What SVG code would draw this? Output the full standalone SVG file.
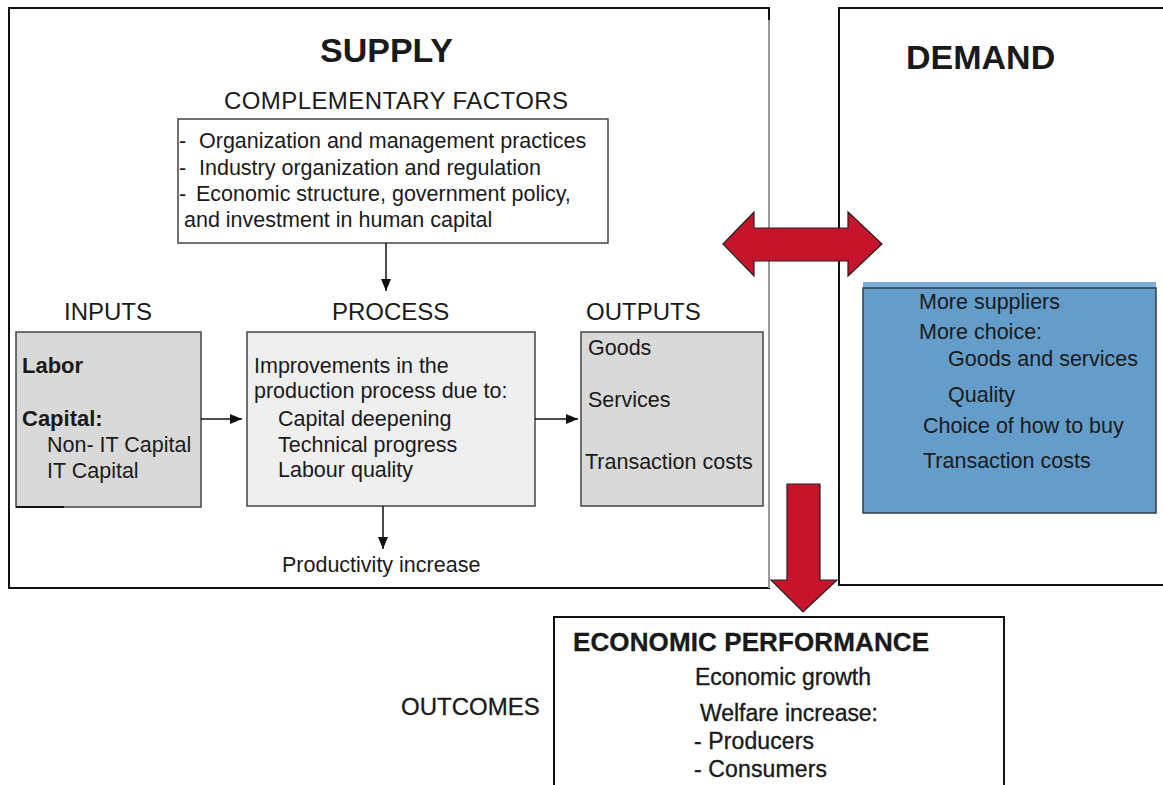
<svg xmlns="http://www.w3.org/2000/svg" width="1163" height="785" viewBox="0 0 1163 785">
<defs>
<style>
text{font-family:"Liberation Sans",Arial,sans-serif;fill:#1a1a1a}
.t21{font-size:21.5px}
.b22{font-size:22px;font-weight:bold}
.h24{font-size:24px}
.ep{font-size:23px;stroke:#1a1a1a;stroke-width:0.35}
.frame{fill:#fff;stroke:#111;stroke-width:2}
.grey{fill:#d9d9d9;stroke:#444;stroke-width:1.5}
.light{fill:#efefef;stroke:#444;stroke-width:1.5}
.conn{stroke:#111;stroke-width:1.5;fill:none}
.red{fill:#c8142a;stroke:#222;stroke-width:1.2}
</style>
<marker id="ah" viewBox="0 0 12 10" refX="12" refY="5" markerWidth="12" markerHeight="10" markerUnits="userSpaceOnUse" orient="auto">
<path d="M0,0 L12,5 L0,10 Z" fill="#111"/>
</marker>
</defs>

<g id="supply">
<rect class="frame" x="9" y="8" width="760" height="580"/>
<line x1="769" y1="20" x2="769" y2="588" stroke="#999" stroke-width="2"/>
<text x="320" y="62" style="font-size:34px;font-weight:bold">SUPPLY</text>
<text class="h24" x="224" y="109" textLength="344">COMPLEMENTARY FACTORS</text>
<text class="h24" x="64" y="320">INPUTS</text>
<text class="h24" x="332" y="320">PROCESS</text>
<text class="h24" x="586" y="320">OUTPUTS</text>
</g>

<g id="demand">
<rect class="frame" x="839" y="8" width="340" height="577"/>
<text x="906" y="69" style="font-size:34px;font-weight:bold">DEMAND</text>
</g>

<g id="complementary">
<rect x="178" y="119" width="430" height="124" fill="#fff" stroke="#444" stroke-width="1.5"/>
<text class="t21" x="179" y="148">-</text>
<text class="t21" x="199" y="148">Organization and management practices</text>
<text class="t21" x="179" y="175">-</text>
<text class="t21" x="199" y="175">Industry organization and regulation</text>
<text class="t21" x="179" y="201">-</text>
<text class="t21" x="196" y="201">Economic structure,  government policy,</text>
<text class="t21" x="184" y="227">and investment in human capital</text>
</g>

<g id="inputs">
<rect class="grey" x="16" y="332" width="185" height="175"/>
<line x1="16" y1="507" x2="64" y2="507" stroke="#111" stroke-width="2"/>
<text class="b22" x="22" y="373">Labor</text>
<text class="b22" x="22" y="426">Capital:</text>
<text class="t21" x="47" y="452">Non- IT Capital</text>
<text class="t21" x="47" y="478">IT Capital</text>
</g>

<g id="process">
<rect class="light" x="247" y="332" width="288" height="174"/>
<text class="t21" x="254" y="373">Improvements in the</text>
<text class="t21" x="254" y="398">production process due to:</text>
<text class="t21" x="278" y="426">Capital deepening</text>
<text class="t21" x="278" y="452">Technical progress</text>
<text class="t21" x="278" y="477">Labour quality</text>
</g>

<g id="outputs">
<rect class="grey" x="581" y="332" width="182" height="174"/>
<text class="t21" x="588" y="355">Goods</text>
<text class="t21" x="588" y="407">Services</text>
<text class="t21" x="585" y="469">Transaction costs</text>
</g>

<g id="productivity">
<text class="t21" x="282" y="572">Productivity increase</text>
</g>

<g id="demand-list">
<rect x="863" y="282" width="293" height="6" fill="#79acd8"/>
<rect x="863" y="288" width="293" height="225" fill="#659dca" stroke="#2e3d4d" stroke-width="1.5"/>
<text class="t21" x="919" y="309">More suppliers</text>
<text class="t21" x="919" y="339">More choice:</text>
<text class="t21" x="948" y="366">Goods and services</text>
<text class="t21" x="948" y="402">Quality</text>
<text class="t21" x="923" y="433">Choice of how to buy</text>
<text class="t21" x="923" y="468">Transaction costs</text>
</g>

<g id="economic-performance">
<rect x="554" y="617" width="450" height="200" fill="#fff" stroke="#111" stroke-width="2"/>
<text x="573" y="651" textLength="356" style="font-size:26px;font-weight:bold;stroke:#111;stroke-width:0.3">ECONOMIC PERFORMANCE</text>
<text class="ep" x="695" y="685" textLength="176">Economic growth</text>
<text class="ep" x="700" y="721" textLength="178">Welfare increase:</text>
<text class="ep" x="694" y="749" textLength="120">- Producers</text>
<text class="ep" x="694" y="777" textLength="133">- Consumers</text>
</g>

<g id="outcomes">
<text x="401" y="715" style="font-size:24px;stroke:#1a1a1a;stroke-width:0.3">OUTCOMES</text>
</g>

<g id="connectors">
<line class="conn" x1="386" y1="243" x2="386" y2="291" marker-end="url(#ah)"/>
<line class="conn" x1="201" y1="419" x2="242" y2="419" marker-end="url(#ah)"/>
<line class="conn" x1="535" y1="419" x2="578" y2="419" marker-end="url(#ah)"/>
<line class="conn" x1="383" y1="506" x2="383" y2="549" marker-end="url(#ah)"/>
<polygon class="red" points="723,244 754,212 754,228 848,228 848,212 882,244 848,276 848,261 754,261 754,276"/>
<polygon class="red" points="787,484 820,484 820,580 837,580 803,612 771,580 787,580"/>
</g>
</svg>
